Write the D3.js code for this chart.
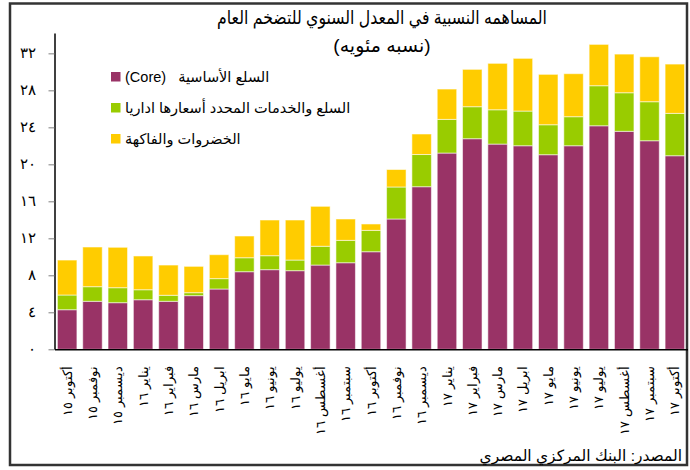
<!DOCTYPE html>
<html><head><meta charset="utf-8">
<script src="https://cdn.jsdelivr.net/npm/d3@7/dist/d3.min.js"></script>
<style>
html,body{margin:0;padding:0;background:#fff;}
svg{display:block;font-family:"Liberation Sans","DejaVu Sans",Arial,sans-serif;}
</style></head>
<body>
<svg id="chart" width="690" height="470"></svg>
<script>
const months = ["أكتوبر ١٥","نوفمبر ١٥","ديسمبر ١٥","يناير ١٦","فبراير ١٦","مارس ١٦","ابريل ١٦","مايو ١٦","يونيو ١٦","يوليو ١٦","أغسطس ١٦","سبتمبر ١٦","أكتوبر ١٦","نوفمبر ١٦","ديسمبر ١٦","يناير ١٧","فبراير ١٧","مارس ١٧","ابريل ١٧","مايو ١٧","يونيو ١٧","يوليو ١٧","أغسطس ١٧","سبتمبر ١٧","أكتوبر ١٧"];
const core = [4.28,5.19,5.04,5.36,5.19,5.80,6.52,8.39,8.61,8.50,9.11,9.36,10.55,14.09,17.58,21.22,22.77,22.19,22.01,21.04,22.01,24.17,23.57,22.55,20.93];
const regulated = [1.59,1.58,1.62,1.08,0.65,0.32,1.12,1.51,1.51,1.15,2.03,2.42,2.31,3.46,3.48,3.64,3.46,3.71,3.75,3.24,3.14,4.33,4.17,4.22,4.58];
const fruitsVeg = [3.78,4.29,4.37,3.65,3.27,2.85,2.59,2.35,3.86,4.33,4.32,2.31,0.69,1.89,2.22,3.28,4.04,5.02,5.70,5.45,4.65,4.47,4.18,4.86,5.33];
const seriesNames = ["السلع الأساسية   (Core)","السلع والخدمات المحدد أسعارها اداريا","الخضروات والفاكهة"];
const seriesColors = ["#993366","#99CC00","#FFCC00"];
const yTicks = [0,4,8,12,16,20,24,28,32];
const titleText = "المساهمه النسبية في المعدل السنوي للتضخم العام";
const subtitleText = "(نسبه مئويه)";
const sourceText = "المصدر: البنك المركزي المصري";

const arDigits = "٠١٢٣٤٥٦٧٨٩";
const toAr = n => String(n).replace(/[0-9]/g, d => arDigits[+d]);

const svg = d3.select("#chart");
const keys = ["core","regulated","fruitsVeg"];
const rows = months.map((m,i)=>({month:m, core:core[i], regulated:regulated[i], fruitsVeg:fruitsVeg[i]}));
const stacked = d3.stack().keys(keys)(rows);

const x = d3.scaleBand().domain(months).range([54.5,687.5]).paddingInner(0.23).paddingOuter(0.115);
const y = d3.scaleLinear().domain([0,34.2]).range([349.3,33]);

// frame
svg.append("rect").attr("x",10).attr("y",3.5).attr("width",677).attr("height",461.5)
  .attr("fill","none").attr("stroke","#333").attr("stroke-width",2.5);

// bars
svg.append("g").selectAll("g").data(stacked).join("g")
  .attr("fill",(d,i)=>seriesColors[i])
  .selectAll("rect").data(d=>d).join("rect")
  .attr("x",d=>x(d.data.month))
  .attr("width",x.bandwidth())
  .attr("y",d=>y(d[1]))
  .attr("height",d=>y(d[0])-y(d[1]))
  .attr("stroke","#ffffff").attr("stroke-opacity",0.55).attr("stroke-width",1);

// y axis
const yAxis = svg.append("g").attr("transform","translate(54.5,0)")
  .call(d3.axisLeft(y).tickValues(yTicks).tickSize(6).tickSizeOuter(0).tickPadding(13).tickFormat(toAr));
yAxis.select(".domain").attr("stroke","#000").attr("stroke-width",1.5);
yAxis.selectAll(".tick line").attr("stroke","#808080");
yAxis.selectAll(".tick text").attr("font-size",14.5).attr("fill","#000")
  .attr("font-family","'DejaVu Serif','Liberation Serif',serif");

// x axis
const xAxis = svg.append("g").attr("transform","translate(0,349.3)")
  .call(d3.axisBottom(x).tickSize(0).tickSizeOuter(0));
xAxis.select(".domain").attr("stroke","#000").attr("stroke-width",1.5);
xAxis.selectAll(".tick text")
  .attr("transform","rotate(-90)")
  .attr("x",-17).attr("y",0).attr("dy","0.35em")
  .attr("text-anchor","end").attr("font-size",13).attr("fill","#000");

// title
svg.append("text").attr("x",382).attr("y",24).attr("text-anchor","middle")
  .attr("font-size",19).attr("fill","#000")
  .attr("textLength",330).attr("lengthAdjust","spacingAndGlyphs").text(titleText);
svg.append("text").attr("x",382).attr("y",52).attr("text-anchor","middle")
  .attr("font-size",19).attr("fill","#000").text(subtitleText);

// legend
const legendY = [77,108,139];
seriesNames.forEach((name,i)=>{
  svg.append("rect").attr("x",111).attr("y",legendY[i]-5).attr("width",9.5).attr("height",9.5)
    .attr("fill",seriesColors[i]);
  const t = svg.append("text").attr("direction","rtl").attr("text-anchor","start")
    .style("white-space","pre")
    .attr("y",legendY[i]).attr("dy","0.35em").attr("font-size",14.5).attr("fill","#000").text(name);
  const w = t.node().getComputedTextLength();
  t.attr("x",125+w);
});

// source
svg.append("text").attr("x",682).attr("y",456).attr("dy","0.35em").attr("text-anchor","end")
  .attr("font-size",15.5).attr("fill","#000").text(sourceText);
</script>
</body></html>
